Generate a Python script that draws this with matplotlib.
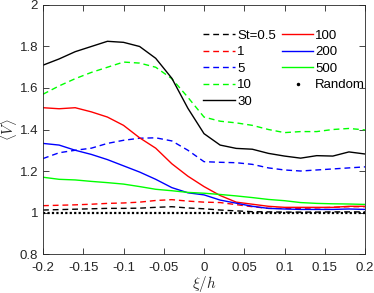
import matplotlib
matplotlib.use('Agg')
import matplotlib.pyplot as plt
from matplotlib.lines import Line2D

plt.rcParams['font.family'] = ['Liberation Sans', 'DejaVu Sans']
plt.rcParams['mathtext.fontset'] = 'cm'
plt.rcParams['axes.unicode_minus'] = False

# ── data ─────────────────────────────────────────────────────────────────────
xi = [-0.20, -0.18, -0.16, -0.14, -0.12, -0.10, -0.08, -0.06, -0.04, -0.02, 0.0,
      0.02, 0.04, 0.06, 0.08, 0.10, 0.12, 0.14, 0.16, 0.18, 0.20]

st_05 = [1.012, 1.014, 1.016, 1.018, 1.020, 1.020, 1.021, 1.025, 1.028, 1.022, 1.018,
         1.012, 1.008, 1.004, 1.003, 1.002, 1.002, 1.002, 1.003, 1.003, 1.003]
st_1 = [1.033, 1.035, 1.037, 1.040, 1.044, 1.046, 1.050, 1.058, 1.062, 1.055, 1.050,
        1.048, 1.038, 1.028, 1.020, 1.020, 1.020, 1.022, 1.025, 1.028, 1.028]
st_5 = [1.260, 1.288, 1.300, 1.310, 1.333, 1.348, 1.358, 1.360, 1.345, 1.300, 1.245,
        1.242, 1.240, 1.232, 1.215, 1.205, 1.200, 1.205, 1.210, 1.215, 1.220]
st_10 = [1.570, 1.610, 1.645, 1.675, 1.700, 1.725, 1.720, 1.700, 1.645, 1.555, 1.460,
         1.440, 1.432, 1.420, 1.400, 1.385, 1.390, 1.390, 1.400, 1.405, 1.398]
st_30 = [1.710, 1.740, 1.775, 1.800, 1.825, 1.820, 1.800, 1.743, 1.647, 1.502, 1.380,
         1.325, 1.309, 1.305, 1.285, 1.272, 1.262, 1.274, 1.272, 1.292, 1.282]
st_100 = [1.505, 1.500, 1.505, 1.485, 1.460, 1.420, 1.360, 1.310, 1.235, 1.175, 1.125,
          1.082, 1.050, 1.040, 1.030, 1.025, 1.025, 1.025, 1.025, 1.030, 1.030]
st_200 = [1.333, 1.325, 1.300, 1.280, 1.255, 1.225, 1.195, 1.160, 1.120, 1.095, 1.085,
          1.060, 1.045, 1.030, 1.020, 1.017, 1.015, 1.015, 1.015, 1.017, 1.015]
st_500 = [1.170, 1.160, 1.157, 1.150, 1.144, 1.137, 1.125, 1.112, 1.105, 1.097, 1.093,
          1.087, 1.080, 1.072, 1.063, 1.057, 1.048, 1.044, 1.042, 1.041, 1.039]
random_v = [1.0] * len(xi)

x_ticks = [-0.2, -0.15, -0.1, -0.05, 0, 0.05, 0.1, 0.15, 0.2]
x_ticklabels = ['-0.2', '-0.15', '-0.1', '-0.05', '0', '0.05', '0.1', '0.15', '0.2']
y_ticks = [0.8, 1.0, 1.2, 1.4, 1.6, 1.8, 2.0]
y_ticklabels = ['0.8', '1', '1.2', '1.4', '1.6', '1.8', '2']

RED, BLUE, GREEN, BLACK = '#ff0000', '#0000ff', '#00ff00', '#000000'
AX = '#262626'

fig = plt.figure(figsize=(3.74, 2.93), dpi=100)
fig.subplots_adjust(left=0.115, right=0.976, top=0.983, bottom=0.133)
ax = fig.add_subplot(111)

dash = (0, (4.2, 2.8))
lw = 1.0
ax.plot(xi, st_05, color=BLACK, ls=dash, lw=lw, label='St=0.5')
ax.plot(xi, st_1, color=RED, ls=dash, lw=lw, label='1')
ax.plot(xi, st_5, color=BLUE, ls=dash, lw=lw, label='5')
ax.plot(xi, st_10, color=GREEN, ls=dash, lw=lw, label='10')
ax.plot(xi, st_30, color=BLACK, lw=lw, label='30')
ax.plot(xi, st_100, color=RED, lw=lw, label='100')
ax.plot(xi, st_200, color=BLUE, lw=lw, label='200')
ax.plot(xi, st_500, color=GREEN, lw=lw, label='500')
ax.plot(xi, random_v, color=BLACK, ls=(0, (1, 1)), lw=1.6)

handles, labels = ax.get_legend_handles_labels()
handles.append(Line2D([], [], color=BLACK, marker='.', ms=3, ls='none'))
labels.append('Random')
ax.legend(handles, labels, ncol=2, frameon=False, fontsize=9.5,
          loc='upper left', bbox_to_anchor=(0.498, 0.902), borderaxespad=0,
          borderpad=0, handlelength=2.4, handletextpad=0.15,
          columnspacing=0.45, labelspacing=0.33)

ax.set_xlim(-0.2, 0.2)
ax.set_ylim(0.8, 2.0)
ax.set_xticks(x_ticks)
ax.set_xticklabels(x_ticklabels)
ax.set_yticks(y_ticks)
ax.set_yticklabels(y_ticklabels)
ax.tick_params(direction='in', top=True, right=True, length=4, width=0.6,
               colors=AX, labelsize=9.5, labelcolor=AX)
ax.tick_params(axis='x', pad=6)
for s in ax.spines.values():
    s.set_color(AX)
    s.set_linewidth(0.6)

ax.set_xlabel(r'$\xi/h$', fontsize=11, color=AX, labelpad=0)
ax.set_ylabel(r'$\langle V\rangle$', fontsize=10.5, color=AX)
ax.yaxis.set_label_coords(-0.074, 0.5)

fig.savefig('out.png', dpi=100)
